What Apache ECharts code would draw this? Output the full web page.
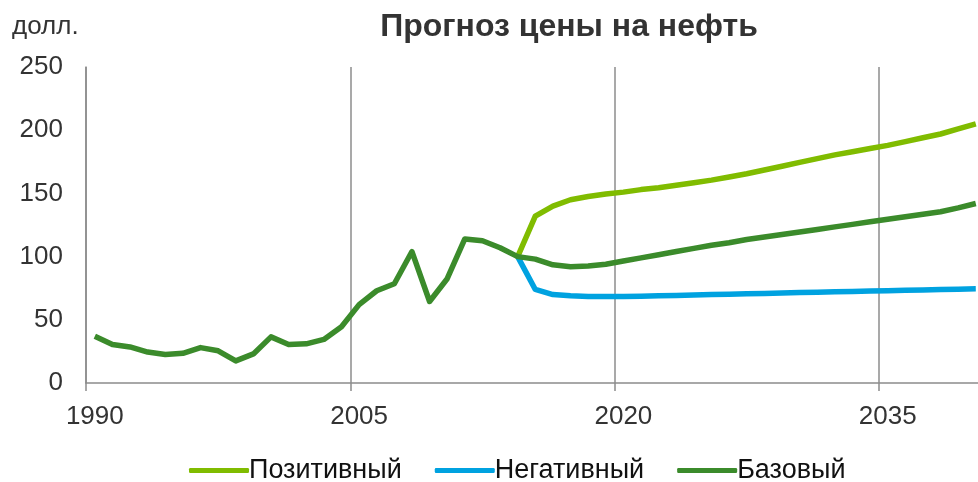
<!DOCTYPE html>
<html>
<head>
<meta charset="utf-8">
<title>Прогноз цены на нефть</title>
<script src="https://cdn.jsdelivr.net/npm/echarts@6/dist/echarts.min.js"></script>
<style>
    html, body { margin: 0; padding: 0; background: #fff; }
    #myChart { width: 978px; height: 482px; }
</style>
</head>
<body>
<div id="myChart"></div>
<script>
// годы 1990..2040
var years = ['1990','1991','1992','1993','1994','1995','1996','1997','1998','1999',
    '2000','2001','2002','2003','2004','2005','2006','2007','2008','2009',
    '2010','2011','2012','2013','2014','2015','2016','2017','2018','2019',
    '2020','2021','2022','2023','2024','2025','2026','2027','2028','2029',
    '2030','2031','2032','2033','2034','2035','2036','2037','2038','2039','2040'];

// Базовый
var baseData = [37, 30.5, 28.5, 24.5, 22.5, 23.5, 28, 25.5, 17.5, 23,
    36.5, 30.5, 31, 34.5, 44.5, 62, 73, 78.5, 104, 64.5,
    82.5, 114, 112.5, 107, 100, 98, 93.5, 92, 92.5, 94,
    96.5, 99, 101.5, 104, 106.5, 109, 111, 113.5, 115.5, 117.5,
    119.5, 121.5, 123.5, 125.5, 127.5, 129.5, 131.5, 133.5, 135.5, 138.5, 142];

// Позитивный (с 2014)
var posData = ['-','-','-','-','-','-','-','-','-','-',
    '-','-','-','-','-','-','-','-','-','-',
    '-','-','-','-', 100, 132, 140, 145, 147.5, 149.5,
    151, 153, 154.5, 156.5, 158.5, 160.5, 163, 165.5, 168.5, 171.5,
    174.5, 177.5, 180.5, 183, 185.5, 188, 191, 194, 197, 201, 205];

// Негативный (с 2014)
var negData = ['-','-','-','-','-','-','-','-','-','-',
    '-','-','-','-','-','-','-','-','-','-',
    '-','-','-','-', 100, 74, 70, 69, 68.5, 68.5,
    68.5, 68.7, 69, 69.3, 69.6, 70, 70.3, 70.6, 70.9, 71.2,
    71.5, 71.8, 72.1, 72.4, 72.7, 73, 73.3, 73.6, 73.9, 74.2, 74.5];

var yTicks = { min: 0, max: 250, interval: 50 };

function drawChart() {
    var dom = document.getElementById("myChart");
    var myChart = echarts.init(dom, null, { renderer: 'canvas' });
    var font = "'Liberation Sans', Arial, sans-serif";

    // подписи и сетка каждые 15 лет
    var every15 = function (idx) { return idx % 15 === 0; };

    var option = {
        backgroundColor: '#fff',
        animation: false,
        textStyle: { fontFamily: font },
        title: [{
            text: 'Прогноз цены на нефть',
            left: 564,
            top: 6,
            textAlign: 'center',
            textStyle: { fontSize: 32, fontWeight: 'bold', color: '#333', fontFamily: font }
        }, {
            text: 'долл.',
            left: 7,
            top: 9,
            textStyle: { fontSize: 26, fontWeight: 'normal', color: '#333', fontFamily: font }
        }],
        legend: {
            left: 184,
            top: 452,
            itemWidth: 60,
            itemHeight: 5,
            itemGap: 33,
            icon: 'roundRect',
            textStyle: { fontSize: 27, color: '#111', padding: [0, 0, 0, -5], fontFamily: font },
            data: ['Позитивный', 'Негативный', 'Базовый']
        },
        grid: {
            left: 86,
            top: 67,
            width: 898.6,
            height: 316,
            outerBoundsMode: 'none',
            containLabel: false
        },
        xAxis: {
            type: 'category',
            data: years,
            boundaryGap: true,
            axisLine: { lineStyle: { color: '#8c8c8c', width: 1.5 } },
            axisTick: { show: true, interval: every15, length: 8, lineStyle: { color: '#8c8c8c', width: 1.5 } },
            axisLabel: { interval: every15, fontSize: 26, color: '#333', margin: 21, fontFamily: font },
            splitLine: { show: true, interval: every15, lineStyle: { color: '#8c8c8c', width: 1.5 } }
        },
        yAxis: {
            type: 'value',
            min: yTicks.min,
            max: yTicks.max,
            interval: yTicks.interval,
            axisLine: { show: true, lineStyle: { color: '#8c8c8c', width: 1.5 } },
            axisTick: { show: false },
            splitLine: { show: false },
            axisLabel: { fontSize: 26, color: '#333', margin: 23, fontFamily: font }
        },
        series: [{
            name: 'Позитивный',
            type: 'line',
            data: posData,
            symbol: 'none',
            color: '#80bc00',
            lineStyle: { width: 5.5, color: '#80bc00', join: 'round' }
        }, {
            name: 'Негативный',
            type: 'line',
            data: negData,
            symbol: 'none',
            color: '#00a2e0',
            lineStyle: { width: 5.5, color: '#00a2e0', join: 'round' }
        }, {
            name: 'Базовый',
            type: 'line',
            data: baseData,
            symbol: 'none',
            color: '#3b8b2b',
            lineStyle: { width: 5.5, color: '#3b8b2b', join: 'round' }
        }]
    };

    if (option && typeof option === "object") {
        myChart.setOption(option, true);
    }
}

drawChart();
</script>
</body>
</html>
